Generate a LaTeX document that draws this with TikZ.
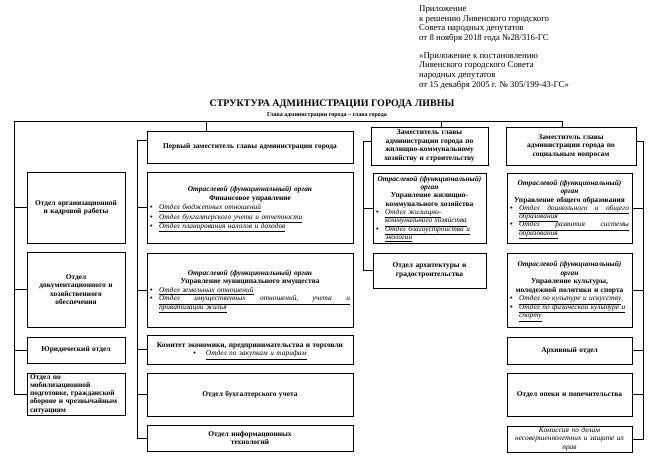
\documentclass[tikz,border=0pt]{standalone}
\usepackage{fontspec}
\setmainfont{Liberation Serif}
\usetikzlibrary{calc}
\newcommand{\itm}[1]{\par\noindent\hbox to 9pt{\textbullet\hfil}{\normalfont\itshape#1}}
\newcommand{\itc}[1]{\par\noindent\hspace*{9pt}{\normalfont\itshape#1}}
\newcommand{\ul}[1]{\setbox0=\hbox{\underline{#1}}\dp0=0.6pt\box0}
\newcommand{\jl}[1]{\ul{\hbox to \dimexpr\hsize-9pt\relax{#1}}}
\newcommand{\otrorg}[1]{{\centering\textit{Отраслевой (функциональный) орган}\\#1\par}}
\tikzset{
  box/.style={draw,line width=0.8pt,inner xsep=3pt,inner ysep=0.5pt,align=center,
    font=\fontsize{7.4}{8.5}\selectfont\bfseries},
  lst/.style={box,align=left},
  colL/.style={minimum width=98pt,text width=92pt},
  colM/.style={minimum width=206pt,text width=200pt},
  colA/.style={minimum width=113pt,text width=107pt},
  colB/.style={minimum width=125pt,text width=119pt},
  ln/.style={line width=0.8pt}
}
\begin{document}
\begin{tikzpicture}[x=1pt,y=-1pt]
\path[use as bounding box,fill=white] (0,0) rectangle (656,458);
% headings
\node[anchor=north west,inner sep=0,align=left,font=\fontsize{8.8}{9.7}\selectfont] (app) at (419,5.5)
 {Приложение\\к решению Ливенского городского\\Совета народных депутатов\\от 8 ноября 2018 года №28/316-ГС\\[8pt]
  «Приложение к постановлению\\Ливенского городского Совета\\народных депутатов\\от 15 декабря 2005 г. № 305/199-43-ГС»};
\node[font=\fontsize{10}{11}\selectfont\bfseries,inner sep=0] (title) at (332,104) {СТРУКТУРА АДМИНИСТРАЦИИ ГОРОДА ЛИВНЫ};
\node[font=\fontsize{6}{7}\selectfont\bfseries,inner sep=0] (head) at (327,115.5) {Глава администрации города – глава города};
% deputies
\node[box,minimum width=206pt,text width=200pt,minimum height=32pt] (dep1) at (250,147) {Первый заместитель главы администрации города};
\node[box,minimum width=117pt,text width=111pt,minimum height=38pt] (dep2) at (429.5,146) {Заместитель главы\\администрации города по\\жилищно-коммунальному\\хозяйству и строительству};
\node[box,minimum width=130pt,text width=124pt,minimum height=38pt] (dep3) at (571,146) {Заместитель главы\\администрации города по\\социальным вопросам};
% left column
\node[box,colL,minimum height=71pt] (org) at (76,207.5) {Отдел организационной\\и кадровой работы};
\node[box,colL,minimum height=75pt] (doc) at (76,289.5) {Отдел\\документационного и\\хозяйственного\\обеспечения};
\node[box,colL,minimum height=26pt] (jur) at (76,350) {Юридический отдел};
\node[box,colL,minimum height=42pt,align=left,font=\fontsize{7.4}{8.3}\selectfont\bfseries] (mob) at (76,394) {Отдел по\\мобилизационной\\подготовке, гражданской\\обороне и чрезвычайным\\ситуациям};
% first deputy
\node[lst,colM,minimum height=71pt,font=\fontsize{7.4}{9.2}\selectfont\bfseries] (fin) at (250,207.5) {\otrorg{Финансовое управление}
 \itm{\ul{Отдел бюджетных отношений}}\itm{\ul{Отдел бухгалтерского учета и отчетности}}\itm{\ul{Отдел планирования налогов и доходов}}};
\node[lst,colM,minimum height=74pt] (mun) at (250,290) {\otrorg{Управление муниципального имущества}
 \itm{\ul{Отдел земельных отношений}}\itm{\jl{Отдел\hfill имущественных\hfill отношений,\hfill учета\hfill и}}\itc{\ul{приватизации жилья}}};
\node[box,colM,minimum height=29pt] (com) at (250,349.5) {Комитет экономики, предпринимательства и торговли\\
 \textbullet\hspace{10pt}{\normalfont\itshape\ul{Отдел по закупкам и тарифам}}};
\node[box,colM,minimum height=43pt] (buh) at (250,394.5) {Отдел бухгалтерского учета};
\node[box,colM,minimum height=26pt] (it) at (250,438) {Отдел информационных\\технологий};
% housing deputy
\node[lst,colA,minimum height=70pt,font=\fontsize{7.4}{8.3}\selectfont\bfseries] (hous) at (429.5,208) {\otrorg{Управление жилищно-\\коммунального хозяйства}
 \itm{\ul{Отдел жилищно-}}\itc{\ul{коммунального хозяйства}}\itm{\ul{Отдел благоустройства и}}\itc{\ul{экологии}}};
\node[box,colA,minimum height=35pt] (arch) at (429.5,270.5) {Отдел архитектуры и\\градостроительства};
% social deputy
\node[lst,colB,minimum height=70pt,font=\fontsize{7.4}{8.3}\selectfont\bfseries] (edu) at (569.5,208) {\otrorg{Управление общего образования}
 \itm{\jl{Отдел\hfill дошкольного\hfill и\hfill общего}}\itc{\ul{образования}}\itm{\jl{Отдел\hfill развития\hfill системы}}\itc{\ul{образования}}};
\node[lst,colB,minimum height=74pt] (cult) at (569.5,290) {\otrorg{Управление культуры,\\молодежной политики и спорта}
 \itm{\ul{Отдел по культуре и искусству}}\itm{\ul{Отдел по физической культуре и}}\itc{\ul{спорту}}};
\node[box,colB,minimum height=27pt] (arhiv) at (569.5,350.5) {Архивный отдел};
\node[box,colB,minimum height=43pt] (opeka) at (569.5,394.5) {Отдел опеки и попечительства};
\node[box,colB,minimum height=26pt,font=\fontsize{7.4}{8.3}\selectfont\itshape] (komis) at (569.5,439) {Комиссия по делам\\несовершеннолетних и защите их\\прав};
% connectors
\coordinate (tL) at (14,121); \coordinate (tR) at (562,121);
\coordinate (h1) at (206,121); \coordinate (h2) at (441,121);
\coordinate (xM) at (137,0); \coordinate (xA) at (363,0); \coordinate (xB) at (643,0);
\coordinate (d1) at ($(dep1.north west)!.31!(dep1.south west)$);
\coordinate (d2) at ($(dep2.north west)!.37!(dep2.south west)$);
\coordinate (d3) at ($(dep3.north east)!.37!(dep3.south east)$);
\draw[ln] (tR) -- (tL) |- (mob.west) (h1) -- (h1 |- dep1.north) (h2) -- (h2 |- dep2.north) (tR) -- (tR |- dep3.north);
\draw[ln] (tL |- org.west) -- (org.west) (tL |- doc.west) -- (doc.west) (tL |- jur.west) -- (jur.west);
\draw[ln] (d1) -- (d1 -| xM) |- (it.west);
\draw[ln] (xM |- fin.west) -- (fin.west) (xM |- mun.west) -- (mun.west) (xM |- com.west) -- (com.west) (xM |- buh.west) -- (buh.west);
\draw[ln] (d2) -- (d2 -| xA) |- (arch.west) (xA |- hous.west) -- (hous.west);
\draw[ln] (d3) -- (d3 -| xB) |- (komis.east);
\draw[ln] (xB |- edu.east) -- (edu.east) (xB |- cult.east) -- (cult.east) (xB |- arhiv.east) -- (arhiv.east) (xB |- opeka.east) -- (opeka.east);
\end{tikzpicture}
\end{document}
